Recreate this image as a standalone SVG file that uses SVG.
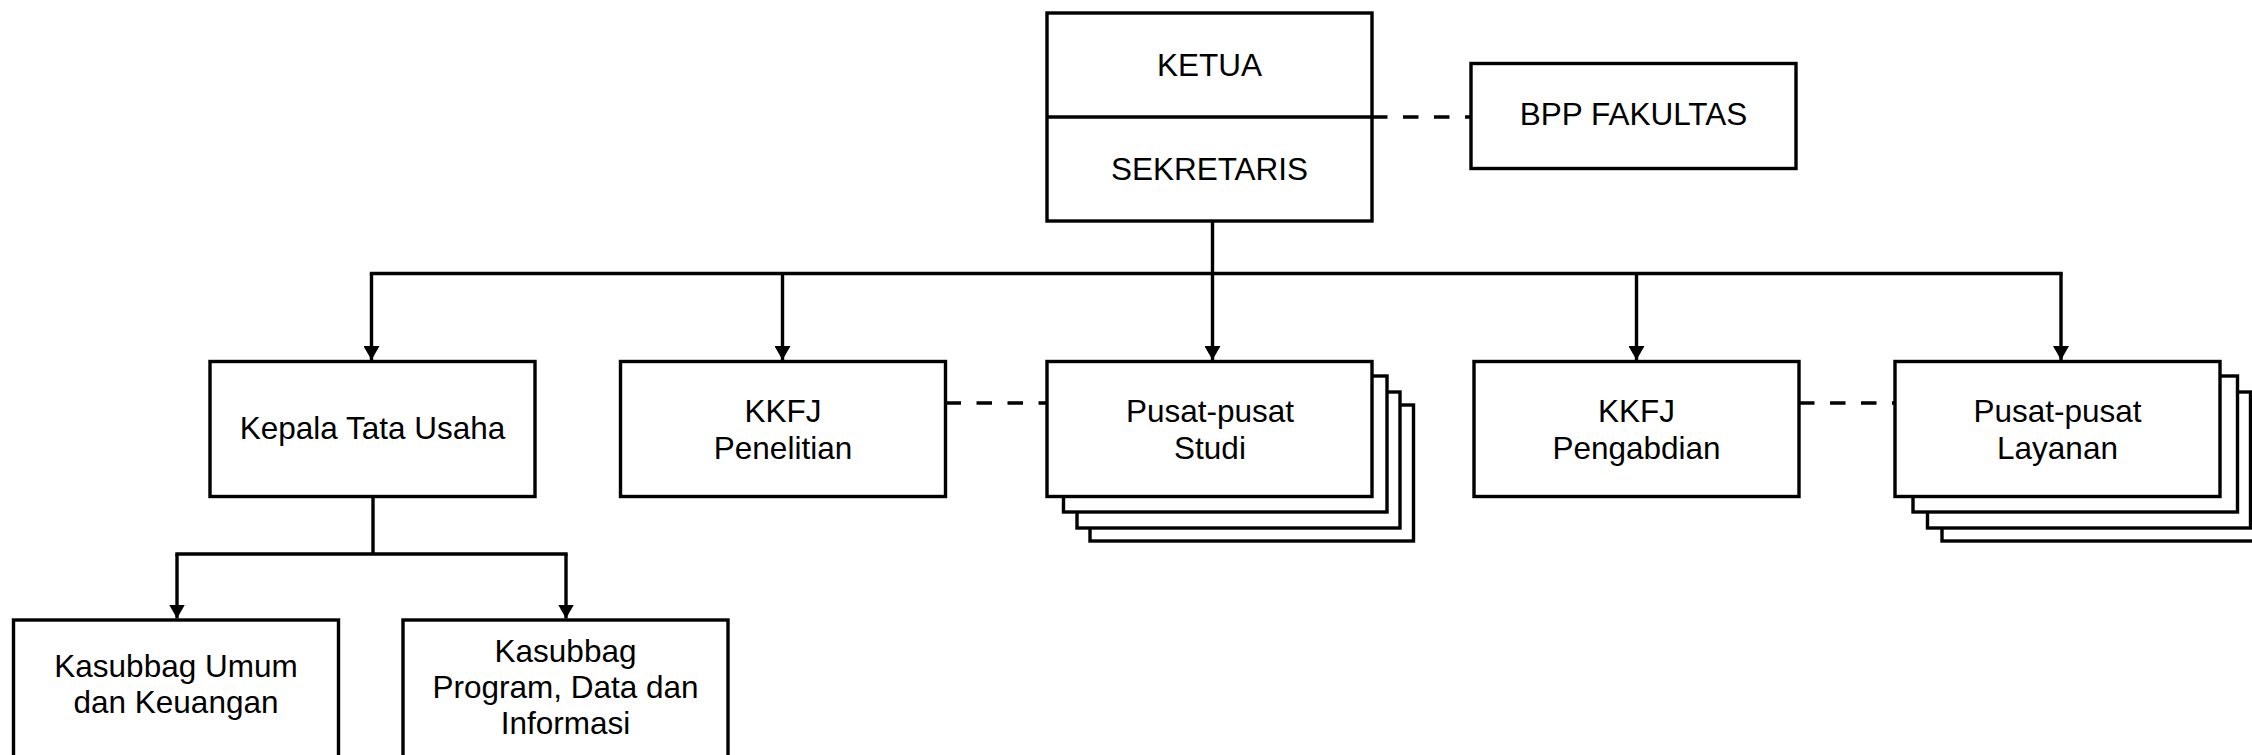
<svg xmlns="http://www.w3.org/2000/svg" width="2252" height="755" viewBox="0 0 2252 755">
<style>
.box{fill:#fff;stroke:#000;stroke-width:3.4;stroke-linejoin:miter}
.ln{fill:none;stroke:#000;stroke-width:3.4}
.dash{fill:none;stroke:#000;stroke-width:3.4;stroke-dasharray:15.5 15.5}
text{font-family:"Liberation Sans",Arial,sans-serif;font-size:31.5px;fill:#000;text-anchor:middle}
</style>
<defs>
<marker id="arr" markerUnits="userSpaceOnUse" markerWidth="15" markerHeight="16" refX="14" refY="8" orient="auto" viewBox="0 0 15 16">
<path d="M0,0 L14,8 L0,16 Z" fill="#000"/>
</marker>
</defs>
<rect width="2252" height="755" fill="#fff"/>
<g id="connectors">
<line class="ln" x1="1212.5" y1="221" x2="1212.5" y2="273.5"/>
<line class="ln" x1="369.8" y1="273.5" x2="2062.7" y2="273.5"/>
<path class="ln" d="M371.5,273.5 V360" marker-end="url(#arr)"/>
<path class="ln" d="M782.5,273.5 V360" marker-end="url(#arr)"/>
<path class="ln" d="M1212.5,273.5 V360" marker-end="url(#arr)"/>
<path class="ln" d="M1636.5,273.5 V360" marker-end="url(#arr)"/>
<path class="ln" d="M2061,273.5 V360" marker-end="url(#arr)"/>
<line class="ln" x1="373" y1="497" x2="373" y2="554"/>
<line class="ln" x1="175.3" y1="554" x2="567.7" y2="554"/>
<path class="ln" d="M177,554 V618.5" marker-end="url(#arr)"/>
<path class="ln" d="M566,554 V618.5" marker-end="url(#arr)"/>
<line class="dash" x1="1372" y1="117" x2="1471" y2="117"/>
<line class="dash" x1="945.5" y1="403" x2="1047" y2="403"/>
<line class="dash" x1="1799" y1="403" x2="1895" y2="403"/>
</g>
<g id="ketua">
<rect class="box" x="1047" y="13" width="325" height="208"/>
<line class="ln" x1="1047" y1="117" x2="1372" y2="117"/>
<text x="1209.5" y="76">KETUA</text>
<text x="1209.5" y="180">SEKRETARIS</text>
</g>
<g id="bpp">
<rect class="box" x="1471" y="63.5" width="325" height="105"/>
<text x="1633.5" y="125">BPP FAKULTAS</text>
</g>
<g id="kepala-tu">
<rect class="box" x="210" y="361.5" width="325" height="135"/>
<text x="372.5" y="438.5">Kepala Tata Usaha</text>
</g>
<g id="kkfj-penelitian">
<rect class="box" x="620.5" y="361.5" width="325" height="135"/>
<text x="783" y="421.7">KKFJ</text>
<text x="783" y="458.5">Penelitian</text>
</g>
<g id="pusat-studi">
<rect class="box" x="1090" y="405" width="323.5" height="136"/>
<rect class="box" x="1077" y="392" width="323" height="136"/>
<rect class="box" x="1063.5" y="376" width="323.5" height="136"/>
<rect class="box" x="1047" y="361.5" width="325" height="135"/>
<text x="1210" y="421.7">Pusat-pusat</text>
<text x="1210" y="459">Studi</text>
</g>
<g id="kkfj-pengabdian">
<rect class="box" x="1474" y="361.5" width="325" height="135"/>
<text x="1636.5" y="421.7">KKFJ</text>
<text x="1636.5" y="458.5">Pengabdian</text>
</g>
<g id="pusat-layanan">
<rect class="box" x="1942" y="405" width="324" height="136"/>
<rect class="box" x="1927.5" y="392" width="323" height="136"/>
<rect class="box" x="1913" y="376" width="324.5" height="136"/>
<rect class="box" x="1895" y="361.5" width="325" height="135"/>
<text x="2057.5" y="421.7">Pusat-pusat</text>
<text x="2057.5" y="459">Layanan</text>
</g>
<g id="kasubbag-umum">
<rect class="box" x="13.5" y="620" width="325" height="145"/>
<text x="176" y="677.3">Kasubbag Umum</text>
<text x="176" y="713.3">dan Keuangan</text>
</g>
<g id="kasubbag-program">
<rect class="box" x="403" y="620" width="325" height="145"/>
<text x="565.5" y="662">Kasubbag</text>
<text x="565.5" y="698">Program, Data dan</text>
<text x="565.5" y="734">Informasi</text>
</g>
</svg>
